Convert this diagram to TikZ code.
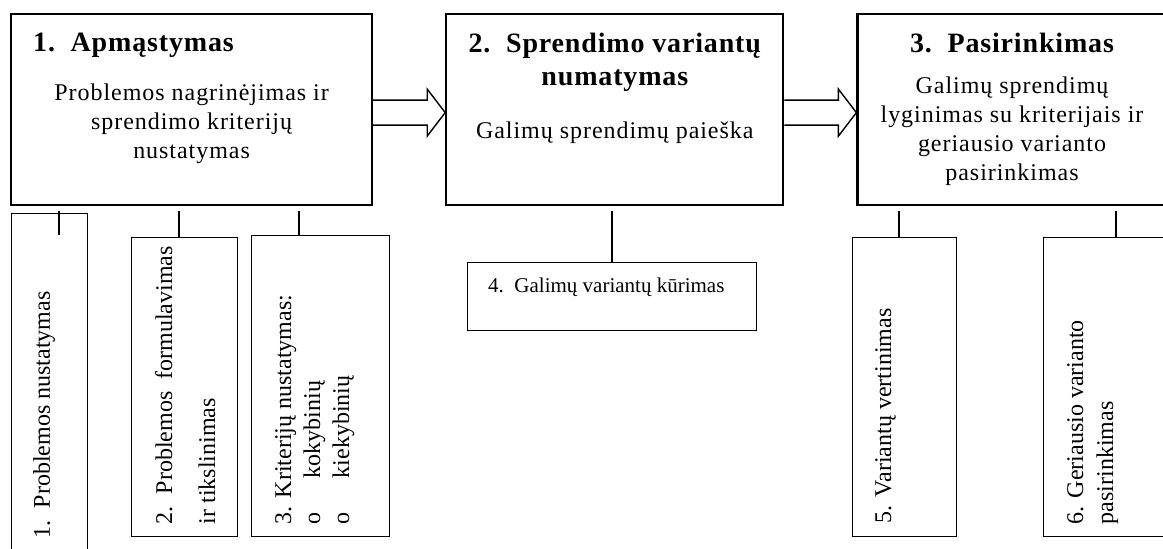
\documentclass[tikz,border=0pt]{standalone}
\usepackage{fontspec}
\setmainfont{Liberation Serif}
\newfontfamily\widefont[LetterSpace=4]{Liberation Serif}
\newfontfamily\wideheadfont[LetterSpace=3]{Liberation Serif}
\usepackage{tikz}
\usetikzlibrary{positioning}

\tikzset{
    mainbox/.style={draw, line width=2.2pt, inner sep=0pt, anchor=north west},
    subbox/.style={draw, line width=1.4pt, inner sep=0pt, anchor=north west},
    link/.style={line width=1.4pt},
    hollow/.style={line width=1.4pt, line join=miter},
    heading/.style={inner sep=0pt, align=center, font=\wideheadfont\fontsize{28}{33}\selectfont\bfseries},
    body/.style={inner sep=0pt, align=center, font=\widefont\fontsize{24}{29}\selectfont},
    vlabel/.style={inner sep=0pt, rotate=90, anchor=north west, align=left, font=\fontsize{24}{29}\selectfont},
}

\begin{document}
\begin{tikzpicture}[x=1pt, y=-1pt]
    \useasboundingbox (0,0) rectangle (1163,549);
    \clip (0,0) rectangle (1163,549);

    \node [mainbox, minimum width=361pt, minimum height=191pt] (box_1) at (10,13) {};
    \node [mainbox, minimum width=337pt, minimum height=191pt, right=72pt of box_1] (box_2) {};
    \node [mainbox, minimum width=309pt, minimum height=191pt, right=72pt of box_2] (box_3) {};

    \node [heading, anchor=north west] (head_1) at ([shift={(23,20)}]box_1.north west) {1.\ \ Apmąstymas};
    \node [body, anchor=north] (desc_1) at ([shift={(0,70.5)}]box_1.north) {Problemos nagrinėjimas ir\\sprendimo kriterijų\\nustatymas};

    \node [heading, anchor=north] (head_2) at ([shift={(0,20)}]box_2.north) {2.\ \ Sprendimo variantų\\numatymas};
    \node [body, anchor=north] (desc_2) at ([shift={(0,108.5)}]box_2.north) {Galimų sprendimų paieška};

    \node [heading, anchor=north] (head_3) at ([shift={(0,20)}]box_3.north) {3.\ \ Pasirinkimas};
    \node [body, anchor=north] (desc_3) at ([shift={(0,63.5)}]box_3.north) {Galimų sprendimų\\lyginimas su kriterijais ir\\geriausio varianto\\pasirinkimas};

    \draw [hollow] ([shift={(0,-9.5)}]box_1.east) -- ++(54,0) -- ++(0,-11) -- ([shift={(0,3)}]box_2.west)
        -- ++(-18,23.5) -- ++(0,-11) -- ([shift={(0,15.5)}]box_1.east);
    \draw [hollow] ([shift={(0,-9.5)}]box_2.east) -- ++(54,0) -- ++(0,-11) -- ([shift={(0,3)}]box_3.west)
        -- ++(-18,23.5) -- ++(0,-11) -- ([shift={(0,15.5)}]box_2.east);

    \node [subbox, minimum width=76pt, minimum height=340pt] (sub_1) at (11,213) {};
    \node [subbox, minimum width=106pt, minimum height=299pt] (sub_2) at (131,237) {};
    \node [subbox, minimum width=138pt, minimum height=301pt] (sub_3) at (251,235) {};
    \node [subbox, minimum width=289pt, minimum height=68pt] (sub_4) at (467,262) {};
    \node [subbox, minimum width=104pt, minimum height=299pt] (sub_5) at (852,237) {};
    \node [subbox, minimum width=146pt, minimum height=299pt] (sub_6) at (1043,237) {};

    \coordinate (k_1) at (59,211);
    \coordinate (k_1_end) at (59,235);
    \coordinate (k_2) at (179,211);
    \coordinate (k_3) at (299,211);
    \coordinate (k_4) at (612,211);
    \coordinate (k_5) at (899,211);
    \coordinate (k_6) at (1116,211);

    \draw [link] (k_1) -- (k_1_end);
    \draw [link] (k_2) -- (k_2 |- sub_2.north);
    \draw [link] (k_3) -- (k_3 |- sub_3.north);
    \draw [link] (k_4) -- (k_4 |- sub_4.north);
    \draw [link] (k_5) -- (k_5 |- sub_5.north);
    \draw [link] (k_6) -- (k_6 |- sub_6.north);

    \node [vlabel] (txt_1) at ([shift={(22,-16)}]sub_1.south west) {1.\ \ Problemos nustatymas};
    \node [vlabel, font=\fontsize{24}{43}\selectfont] (txt_2) at ([shift={(24,-13)}]sub_2.south west) {2.\ \ Problemos\ \ formulavimas\\ir tikslinimas};
    \node [vlabel] (txt_3) at ([shift={(24,-13)}]sub_3.south west) {3. Kriterijų nustatymas:\\\makebox[46pt][l]{o}kokybinių\\\makebox[46pt][l]{o}kiekybinių};
    \node [anchor=base west, inner sep=0pt, font=\fontsize{21}{25}\selectfont] (txt_4) at ([shift={(21,30)}]sub_4.north west) {4.\ \ Galimų variantų kūrimas};
    \node [vlabel] (txt_5) at ([shift={(23,-14)}]sub_5.south west) {5. Variantų vertinimas};
    \node [vlabel, font=\fontsize{24}{30}\selectfont] (txt_6) at ([shift={(24,-13)}]sub_6.south west) {6. Geriausio varianto\\pasirinkimas};
\end{tikzpicture}
\end{document}
